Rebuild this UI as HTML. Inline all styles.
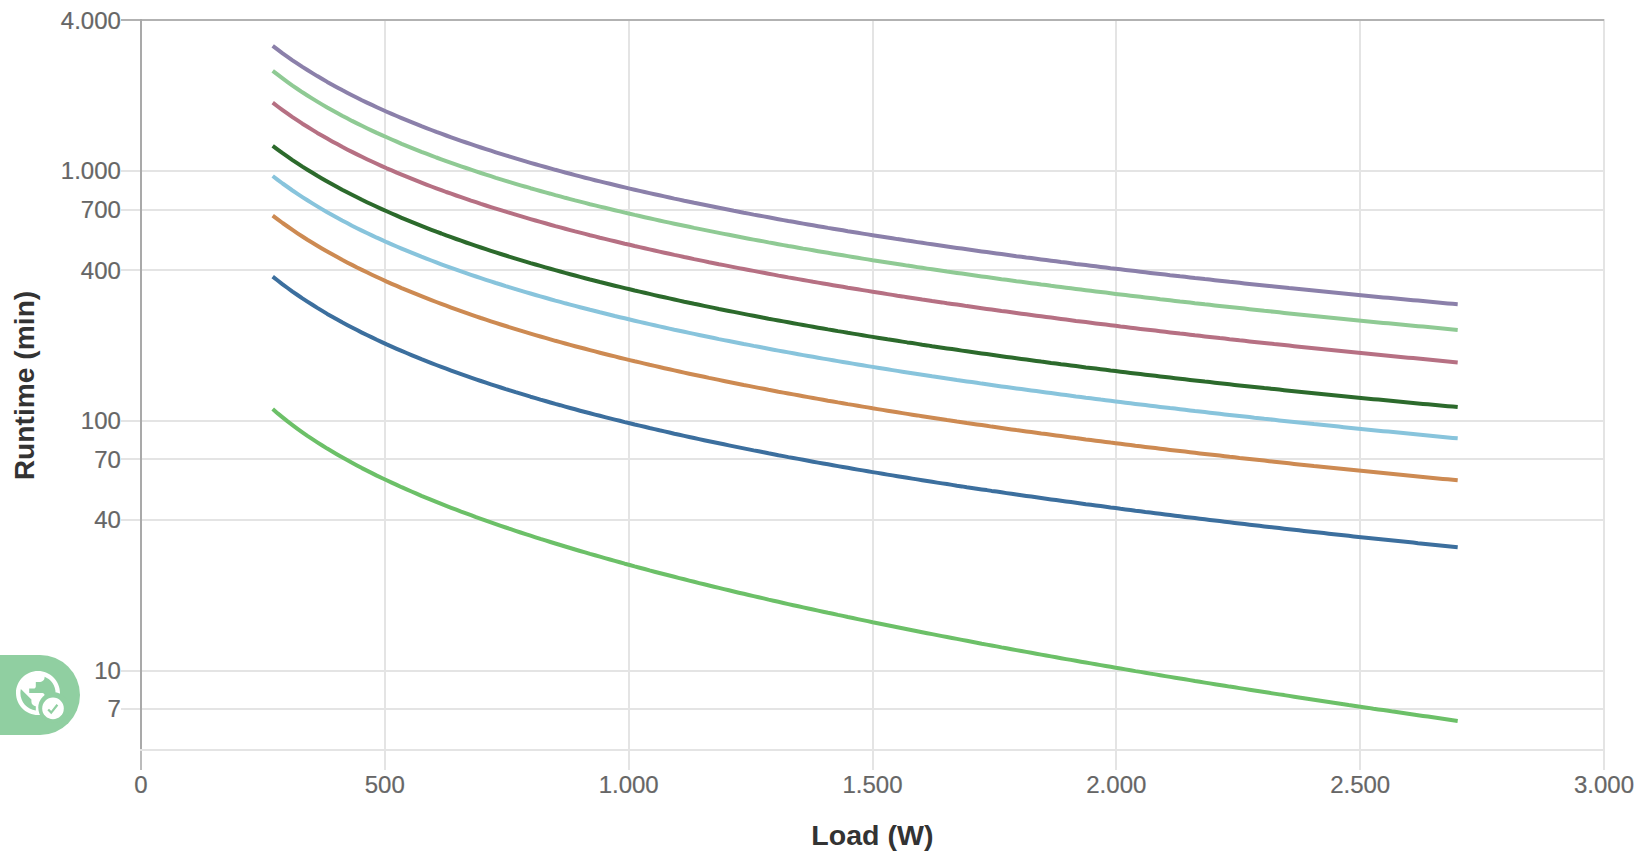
<!DOCTYPE html>
<html><head><meta charset="utf-8"><title>Runtime chart</title>
<style>
html,body{margin:0;padding:0;background:#fff;}
body{width:1640px;height:863px;overflow:hidden;position:relative;font-family:"Liberation Sans",sans-serif;}
svg{position:absolute;left:0;top:0;display:block;}
.tk text,.tk{font-family:"Liberation Sans",sans-serif;font-size:24px;fill:#666;stroke:#666;stroke-width:0.2px;}
.ttl{font-family:"Liberation Sans",sans-serif;font-size:28px;font-weight:bold;fill:#333;}
</style></head><body>
<svg width="1640" height="863" viewBox="0 0 1640 863">
<rect width="1640" height="863" fill="#fff"/>
<g shape-rendering="crispEdges">
<rect x="121" y="170" width="1484" height="2" fill="#e4e4e4"/>
<rect x="121" y="209" width="1484" height="2" fill="#e4e4e4"/>
<rect x="121" y="269" width="1484" height="2" fill="#e4e4e4"/>
<rect x="121" y="420" width="1484" height="2" fill="#e4e4e4"/>
<rect x="121" y="458" width="1484" height="2" fill="#e4e4e4"/>
<rect x="121" y="519" width="1484" height="2" fill="#e4e4e4"/>
<rect x="121" y="670" width="1484" height="2" fill="#e4e4e4"/>
<rect x="121" y="708" width="1484" height="2" fill="#e4e4e4"/>
<rect x="140" y="749" width="1465" height="2" fill="#e4e4e4"/>
<rect x="384" y="19" width="2" height="751" fill="#e4e4e4"/>
<rect x="628" y="19" width="2" height="751" fill="#e4e4e4"/>
<rect x="872" y="19" width="2" height="751" fill="#e4e4e4"/>
<rect x="1115" y="19" width="2" height="751" fill="#e4e4e4"/>
<rect x="1359" y="19" width="2" height="751" fill="#e4e4e4"/>
<rect x="1603" y="19" width="2" height="751" fill="#e4e4e4"/>
<rect x="121" y="19" width="1483" height="2" fill="#b2b2b2"/>
<rect x="140" y="19" width="2" height="730" fill="#a9a9a9"/>
<rect x="140" y="751" width="2" height="19" fill="#bcbcbc"/>
</g>
<g fill="none" stroke-width="4" stroke-linejoin="round">
<path d="M272.7 409.1 L277.7 413.4 L282.6 417.4 L287.6 421.4 L292.5 425.1 L297.5 428.8 L302.4 432.3 L307.4 435.8 L312.4 439.1 L317.3 442.3 L322.3 445.5 L327.2 448.6 L332.2 451.5 L337.2 454.5 L342.1 457.3 L347.1 460.1 L352.0 462.8 L357.0 465.5 L361.9 468.1 L366.9 470.6 L371.9 473.1 L376.8 475.6 L381.8 478.0 L386.7 480.3 L391.7 482.6 L396.7 484.9 L401.6 487.2 L406.6 489.4 L411.5 491.5 L416.5 493.7 L421.4 495.8 L426.4 497.8 L431.4 499.9 L436.3 501.9 L441.3 503.9 L446.2 505.8 L451.2 507.8 L456.2 509.7 L461.1 511.6 L466.1 513.4 L471.0 515.2 L476.0 517.1 L480.9 518.8 L485.9 520.6 L490.9 522.4 L495.8 524.1 L500.8 525.8 L505.7 527.5 L510.7 529.2 L515.6 530.8 L520.6 532.5 L525.6 534.1 L530.5 535.7 L535.5 537.3 L540.4 538.9 L545.4 540.4 L550.4 542.0 L555.3 543.5 L560.3 545.0 L565.2 546.5 L570.2 548.0 L575.1 549.5 L580.1 551.0 L585.1 552.4 L590.0 553.9 L595.0 555.3 L599.9 556.7 L604.9 558.1 L609.9 559.5 L614.8 560.9 L619.8 562.3 L624.7 563.7 L629.7 565.0 L634.6 566.4 L639.6 567.7 L644.6 569.0 L649.5 570.4 L654.5 571.7 L659.4 573.0 L664.4 574.3 L669.4 575.5 L674.3 576.8 L679.3 578.1 L684.2 579.3 L689.2 580.6 L694.1 581.8 L699.1 583.1 L704.1 584.3 L709.0 585.5 L714.0 586.7 L718.9 587.9 L723.9 589.1 L728.9 590.3 L733.8 591.5 L738.8 592.7 L743.7 593.8 L748.7 595.0 L753.6 596.1 L758.6 597.3 L763.6 598.4 L768.5 599.6 L773.5 600.7 L778.4 601.8 L783.4 603.0 L788.3 604.1 L793.3 605.2 L798.3 606.3 L803.2 607.4 L808.2 608.5 L813.1 609.5 L818.1 610.6 L823.1 611.7 L828.0 612.8 L833.0 613.8 L837.9 614.9 L842.9 615.9 L847.8 617.0 L852.8 618.0 L857.8 619.1 L862.7 620.1 L867.7 621.1 L872.6 622.2 L877.6 623.2 L882.6 624.2 L887.5 625.2 L892.5 626.2 L897.4 627.2 L902.4 628.2 L907.3 629.2 L912.3 630.2 L917.3 631.2 L922.2 632.2 L927.2 633.2 L932.1 634.1 L937.1 635.1 L942.1 636.1 L947.0 637.0 L952.0 638.0 L956.9 638.9 L961.9 639.9 L966.8 640.8 L971.8 641.8 L976.8 642.7 L981.7 643.7 L986.7 644.6 L991.6 645.5 L996.6 646.4 L1001.5 647.4 L1006.5 648.3 L1011.5 649.2 L1016.4 650.1 L1021.4 651.0 L1026.3 651.9 L1031.3 652.8 L1036.3 653.7 L1041.2 654.6 L1046.2 655.5 L1051.1 656.4 L1056.1 657.3 L1061.0 658.2 L1066.0 659.1 L1071.0 659.9 L1075.9 660.8 L1080.9 661.7 L1085.8 662.5 L1090.8 663.4 L1095.8 664.3 L1100.7 665.1 L1105.7 666.0 L1110.6 666.8 L1115.6 667.7 L1120.5 668.5 L1125.5 669.4 L1130.5 670.2 L1135.4 671.1 L1140.4 671.9 L1145.3 672.7 L1150.3 673.6 L1155.3 674.4 L1160.2 675.2 L1165.2 676.1 L1170.1 676.9 L1175.1 677.7 L1180.0 678.5 L1185.0 679.3 L1190.0 680.1 L1194.9 681.0 L1199.9 681.8 L1204.8 682.6 L1209.8 683.4 L1214.8 684.2 L1219.7 685.0 L1224.7 685.8 L1229.6 686.6 L1234.6 687.3 L1239.5 688.1 L1244.5 688.9 L1249.5 689.7 L1254.4 690.5 L1259.4 691.3 L1264.3 692.0 L1269.3 692.8 L1274.2 693.6 L1279.2 694.4 L1284.2 695.1 L1289.1 695.9 L1294.1 696.7 L1299.0 697.4 L1304.0 698.2 L1309.0 699.0 L1313.9 699.7 L1318.9 700.5 L1323.8 701.2 L1328.8 702.0 L1333.7 702.7 L1338.7 703.5 L1343.7 704.2 L1348.6 705.0 L1353.6 705.7 L1358.5 706.4 L1363.5 707.2 L1368.5 707.9 L1373.4 708.7 L1378.4 709.4 L1383.3 710.1 L1388.3 710.8 L1393.2 711.6 L1398.2 712.3 L1403.2 713.0 L1408.1 713.7 L1413.1 714.5 L1418.0 715.2 L1423.0 715.9 L1428.0 716.6 L1432.9 717.3 L1437.9 718.0 L1442.8 718.7 L1447.8 719.5 L1452.7 720.2 L1457.7 720.9" stroke="#6cc068"/>
<path d="M272.7 276.6 L277.7 280.5 L282.6 284.3 L287.6 288.0 L292.5 291.6 L297.5 295.0 L302.4 298.4 L307.4 301.6 L312.4 304.8 L317.3 307.9 L322.3 310.9 L327.2 313.9 L332.2 316.7 L337.2 319.5 L342.1 322.3 L347.1 324.9 L352.0 327.5 L357.0 330.1 L361.9 332.6 L366.9 335.0 L371.9 337.4 L376.8 339.8 L381.8 342.1 L386.7 344.4 L391.7 346.6 L396.7 348.8 L401.6 350.9 L406.6 353.0 L411.5 355.1 L416.5 357.2 L421.4 359.2 L426.4 361.1 L431.4 363.1 L436.3 365.0 L441.3 366.9 L446.2 368.7 L451.2 370.6 L456.2 372.4 L461.1 374.1 L466.1 375.9 L471.0 377.6 L476.0 379.3 L480.9 381.0 L485.9 382.7 L490.9 384.3 L495.8 385.9 L500.8 387.5 L505.7 389.1 L510.7 390.6 L515.6 392.2 L520.6 393.7 L525.6 395.2 L530.5 396.7 L535.5 398.1 L540.4 399.6 L545.4 401.0 L550.4 402.5 L555.3 403.9 L560.3 405.2 L565.2 406.6 L570.2 408.0 L575.1 409.3 L580.1 410.7 L585.1 412.0 L590.0 413.3 L595.0 414.6 L599.9 415.8 L604.9 417.1 L609.9 418.4 L614.8 419.6 L619.8 420.8 L624.7 422.1 L629.7 423.3 L634.6 424.5 L639.6 425.6 L644.6 426.8 L649.5 428.0 L654.5 429.1 L659.4 430.3 L664.4 431.4 L669.4 432.5 L674.3 433.7 L679.3 434.8 L684.2 435.9 L689.2 437.0 L694.1 438.0 L699.1 439.1 L704.1 440.2 L709.0 441.2 L714.0 442.3 L718.9 443.3 L723.9 444.3 L728.9 445.4 L733.8 446.4 L738.8 447.4 L743.7 448.4 L748.7 449.4 L753.6 450.4 L758.6 451.3 L763.6 452.3 L768.5 453.3 L773.5 454.2 L778.4 455.2 L783.4 456.1 L788.3 457.1 L793.3 458.0 L798.3 458.9 L803.2 459.8 L808.2 460.8 L813.1 461.7 L818.1 462.6 L823.1 463.5 L828.0 464.3 L833.0 465.2 L837.9 466.1 L842.9 467.0 L847.8 467.8 L852.8 468.7 L857.8 469.6 L862.7 470.4 L867.7 471.3 L872.6 472.1 L877.6 472.9 L882.6 473.8 L887.5 474.6 L892.5 475.4 L897.4 476.2 L902.4 477.0 L907.3 477.8 L912.3 478.6 L917.3 479.4 L922.2 480.2 L927.2 481.0 L932.1 481.8 L937.1 482.6 L942.1 483.4 L947.0 484.1 L952.0 484.9 L956.9 485.7 L961.9 486.4 L966.8 487.2 L971.8 487.9 L976.8 488.7 L981.7 489.4 L986.7 490.1 L991.6 490.9 L996.6 491.6 L1001.5 492.3 L1006.5 493.1 L1011.5 493.8 L1016.4 494.5 L1021.4 495.2 L1026.3 495.9 L1031.3 496.6 L1036.3 497.3 L1041.2 498.0 L1046.2 498.7 L1051.1 499.4 L1056.1 500.1 L1061.0 500.8 L1066.0 501.5 L1071.0 502.1 L1075.9 502.8 L1080.9 503.5 L1085.8 504.2 L1090.8 504.8 L1095.8 505.5 L1100.7 506.1 L1105.7 506.8 L1110.6 507.5 L1115.6 508.1 L1120.5 508.8 L1125.5 509.4 L1130.5 510.0 L1135.4 510.7 L1140.4 511.3 L1145.3 512.0 L1150.3 512.6 L1155.3 513.2 L1160.2 513.8 L1165.2 514.5 L1170.1 515.1 L1175.1 515.7 L1180.0 516.3 L1185.0 516.9 L1190.0 517.5 L1194.9 518.1 L1199.9 518.7 L1204.8 519.3 L1209.8 519.9 L1214.8 520.5 L1219.7 521.1 L1224.7 521.7 L1229.6 522.3 L1234.6 522.9 L1239.5 523.5 L1244.5 524.1 L1249.5 524.7 L1254.4 525.2 L1259.4 525.8 L1264.3 526.4 L1269.3 527.0 L1274.2 527.5 L1279.2 528.1 L1284.2 528.7 L1289.1 529.2 L1294.1 529.8 L1299.0 530.3 L1304.0 530.9 L1309.0 531.5 L1313.9 532.0 L1318.9 532.6 L1323.8 533.1 L1328.8 533.7 L1333.7 534.2 L1338.7 534.7 L1343.7 535.3 L1348.6 535.8 L1353.6 536.4 L1358.5 536.9 L1363.5 537.4 L1368.5 538.0 L1373.4 538.5 L1378.4 539.0 L1383.3 539.5 L1388.3 540.1 L1393.2 540.6 L1398.2 541.1 L1403.2 541.6 L1408.1 542.1 L1413.1 542.6 L1418.0 543.2 L1423.0 543.7 L1428.0 544.2 L1432.9 544.7 L1437.9 545.2 L1442.8 545.7 L1447.8 546.2 L1452.7 546.7 L1457.7 547.2" stroke="#3c6f9e"/>
<path d="M272.7 215.6 L277.7 219.4 L282.6 223.0 L287.6 226.5 L292.5 229.9 L297.5 233.3 L302.4 236.5 L307.4 239.7 L312.4 242.7 L317.3 245.7 L322.3 248.7 L327.2 251.5 L332.2 254.3 L337.2 257.1 L342.1 259.8 L347.1 262.4 L352.0 264.9 L357.0 267.5 L361.9 269.9 L366.9 272.3 L371.9 274.7 L376.8 277.0 L381.8 279.3 L386.7 281.6 L391.7 283.8 L396.7 285.9 L401.6 288.1 L406.6 290.2 L411.5 292.2 L416.5 294.2 L421.4 296.2 L426.4 298.2 L431.4 300.1 L436.3 302.0 L441.3 303.9 L446.2 305.7 L451.2 307.6 L456.2 309.4 L461.1 311.1 L466.1 312.9 L471.0 314.6 L476.0 316.3 L480.9 318.0 L485.9 319.6 L490.9 321.3 L495.8 322.9 L500.8 324.5 L505.7 326.0 L510.7 327.6 L515.6 329.1 L520.6 330.6 L525.6 332.1 L530.5 333.6 L535.5 335.1 L540.4 336.5 L545.4 337.9 L550.4 339.4 L555.3 340.8 L560.3 342.1 L565.2 343.5 L570.2 344.9 L575.1 346.2 L580.1 347.5 L585.1 348.8 L590.0 350.1 L595.0 351.4 L599.9 352.7 L604.9 354.0 L609.9 355.2 L614.8 356.4 L619.8 357.7 L624.7 358.9 L629.7 360.1 L634.6 361.3 L639.6 362.4 L644.6 363.6 L649.5 364.8 L654.5 365.9 L659.4 367.0 L664.4 368.2 L669.4 369.3 L674.3 370.4 L679.3 371.5 L684.2 372.6 L689.2 373.7 L694.1 374.7 L699.1 375.8 L704.1 376.8 L709.0 377.9 L714.0 378.9 L718.9 379.9 L723.9 381.0 L728.9 382.0 L733.8 383.0 L738.8 384.0 L743.7 385.0 L748.7 385.9 L753.6 386.9 L758.6 387.9 L763.6 388.8 L768.5 389.8 L773.5 390.7 L778.4 391.7 L783.4 392.6 L788.3 393.5 L793.3 394.4 L798.3 395.3 L803.2 396.2 L808.2 397.1 L813.1 398.0 L818.1 398.9 L823.1 399.8 L828.0 400.7 L833.0 401.5 L837.9 402.4 L842.9 403.2 L847.8 404.1 L852.8 404.9 L857.8 405.8 L862.7 406.6 L867.7 407.4 L872.6 408.3 L877.6 409.1 L882.6 409.9 L887.5 410.7 L892.5 411.5 L897.4 412.3 L902.4 413.1 L907.3 413.9 L912.3 414.7 L917.3 415.4 L922.2 416.2 L927.2 417.0 L932.1 417.7 L937.1 418.5 L942.1 419.2 L947.0 420.0 L952.0 420.7 L956.9 421.5 L961.9 422.2 L966.8 423.0 L971.8 423.7 L976.8 424.4 L981.7 425.1 L986.7 425.8 L991.6 426.6 L996.6 427.3 L1001.5 428.0 L1006.5 428.7 L1011.5 429.4 L1016.4 430.1 L1021.4 430.7 L1026.3 431.4 L1031.3 432.1 L1036.3 432.8 L1041.2 433.5 L1046.2 434.1 L1051.1 434.8 L1056.1 435.5 L1061.0 436.1 L1066.0 436.8 L1071.0 437.4 L1075.9 438.1 L1080.9 438.7 L1085.8 439.4 L1090.8 440.0 L1095.8 440.7 L1100.7 441.3 L1105.7 441.9 L1110.6 442.6 L1115.6 443.2 L1120.5 443.8 L1125.5 444.4 L1130.5 445.0 L1135.4 445.7 L1140.4 446.3 L1145.3 446.9 L1150.3 447.5 L1155.3 448.1 L1160.2 448.7 L1165.2 449.3 L1170.1 449.9 L1175.1 450.5 L1180.0 451.0 L1185.0 451.6 L1190.0 452.2 L1194.9 452.8 L1199.9 453.4 L1204.8 453.9 L1209.8 454.5 L1214.8 455.1 L1219.7 455.6 L1224.7 456.2 L1229.6 456.8 L1234.6 457.3 L1239.5 457.9 L1244.5 458.4 L1249.5 459.0 L1254.4 459.5 L1259.4 460.1 L1264.3 460.6 L1269.3 461.2 L1274.2 461.7 L1279.2 462.3 L1284.2 462.8 L1289.1 463.3 L1294.1 463.9 L1299.0 464.4 L1304.0 464.9 L1309.0 465.4 L1313.9 466.0 L1318.9 466.5 L1323.8 467.0 L1328.8 467.5 L1333.7 468.0 L1338.7 468.5 L1343.7 469.1 L1348.6 469.6 L1353.6 470.1 L1358.5 470.6 L1363.5 471.1 L1368.5 471.6 L1373.4 472.1 L1378.4 472.6 L1383.3 473.1 L1388.3 473.6 L1393.2 474.0 L1398.2 474.5 L1403.2 475.0 L1408.1 475.5 L1413.1 476.0 L1418.0 476.5 L1423.0 477.0 L1428.0 477.4 L1432.9 477.9 L1437.9 478.4 L1442.8 478.9 L1447.8 479.3 L1452.7 479.8 L1457.7 480.3" stroke="#cd8a52"/>
<path d="M272.7 176.0 L277.7 179.8 L282.6 183.5 L287.6 187.0 L292.5 190.5 L297.5 193.9 L302.4 197.1 L307.4 200.3 L312.4 203.4 L317.3 206.4 L322.3 209.4 L327.2 212.3 L332.2 215.1 L337.2 217.8 L342.1 220.5 L347.1 223.1 L352.0 225.7 L357.0 228.2 L361.9 230.6 L366.9 233.0 L371.9 235.4 L376.8 237.7 L381.8 239.9 L386.7 242.2 L391.7 244.4 L396.7 246.5 L401.6 248.6 L406.6 250.7 L411.5 252.7 L416.5 254.7 L421.4 256.7 L426.4 258.6 L431.4 260.5 L436.3 262.4 L441.3 264.3 L446.2 266.1 L451.2 267.9 L456.2 269.7 L461.1 271.4 L466.1 273.1 L471.0 274.8 L476.0 276.5 L480.9 278.1 L485.9 279.8 L490.9 281.4 L495.8 283.0 L500.8 284.5 L505.7 286.1 L510.7 287.6 L515.6 289.1 L520.6 290.6 L525.6 292.1 L530.5 293.5 L535.5 295.0 L540.4 296.4 L545.4 297.8 L550.4 299.2 L555.3 300.6 L560.3 301.9 L565.2 303.3 L570.2 304.6 L575.1 305.9 L580.1 307.2 L585.1 308.5 L590.0 309.8 L595.0 311.0 L599.9 312.3 L604.9 313.5 L609.9 314.7 L614.8 316.0 L619.8 317.2 L624.7 318.3 L629.7 319.5 L634.6 320.7 L639.6 321.9 L644.6 323.0 L649.5 324.1 L654.5 325.3 L659.4 326.4 L664.4 327.5 L669.4 328.6 L674.3 329.7 L679.3 330.7 L684.2 331.8 L689.2 332.9 L694.1 333.9 L699.1 335.0 L704.1 336.0 L709.0 337.0 L714.0 338.0 L718.9 339.1 L723.9 340.1 L728.9 341.0 L733.8 342.0 L738.8 343.0 L743.7 344.0 L748.7 344.9 L753.6 345.9 L758.6 346.8 L763.6 347.8 L768.5 348.7 L773.5 349.7 L778.4 350.6 L783.4 351.5 L788.3 352.4 L793.3 353.3 L798.3 354.2 L803.2 355.1 L808.2 356.0 L813.1 356.8 L818.1 357.7 L823.1 358.6 L828.0 359.4 L833.0 360.3 L837.9 361.1 L842.9 362.0 L847.8 362.8 L852.8 363.6 L857.8 364.5 L862.7 365.3 L867.7 366.1 L872.6 366.9 L877.6 367.7 L882.6 368.5 L887.5 369.3 L892.5 370.1 L897.4 370.9 L902.4 371.7 L907.3 372.4 L912.3 373.2 L917.3 374.0 L922.2 374.7 L927.2 375.5 L932.1 376.3 L937.1 377.0 L942.1 377.8 L947.0 378.5 L952.0 379.2 L956.9 380.0 L961.9 380.7 L966.8 381.4 L971.8 382.1 L976.8 382.8 L981.7 383.6 L986.7 384.3 L991.6 385.0 L996.6 385.7 L1001.5 386.4 L1006.5 387.1 L1011.5 387.7 L1016.4 388.4 L1021.4 389.1 L1026.3 389.8 L1031.3 390.5 L1036.3 391.1 L1041.2 391.8 L1046.2 392.5 L1051.1 393.1 L1056.1 393.8 L1061.0 394.4 L1066.0 395.1 L1071.0 395.7 L1075.9 396.4 L1080.9 397.0 L1085.8 397.7 L1090.8 398.3 L1095.8 398.9 L1100.7 399.6 L1105.7 400.2 L1110.6 400.8 L1115.6 401.4 L1120.5 402.0 L1125.5 402.7 L1130.5 403.3 L1135.4 403.9 L1140.4 404.5 L1145.3 405.1 L1150.3 405.7 L1155.3 406.3 L1160.2 406.9 L1165.2 407.5 L1170.1 408.1 L1175.1 408.6 L1180.0 409.2 L1185.0 409.8 L1190.0 410.4 L1194.9 411.0 L1199.9 411.5 L1204.8 412.1 L1209.8 412.7 L1214.8 413.2 L1219.7 413.8 L1224.7 414.4 L1229.6 414.9 L1234.6 415.5 L1239.5 416.0 L1244.5 416.6 L1249.5 417.1 L1254.4 417.7 L1259.4 418.2 L1264.3 418.8 L1269.3 419.3 L1274.2 419.8 L1279.2 420.4 L1284.2 420.9 L1289.1 421.4 L1294.1 422.0 L1299.0 422.5 L1304.0 423.0 L1309.0 423.5 L1313.9 424.1 L1318.9 424.6 L1323.8 425.1 L1328.8 425.6 L1333.7 426.1 L1338.7 426.6 L1343.7 427.2 L1348.6 427.7 L1353.6 428.2 L1358.5 428.7 L1363.5 429.2 L1368.5 429.7 L1373.4 430.2 L1378.4 430.7 L1383.3 431.2 L1388.3 431.6 L1393.2 432.1 L1398.2 432.6 L1403.2 433.1 L1408.1 433.6 L1413.1 434.1 L1418.0 434.6 L1423.0 435.0 L1428.0 435.5 L1432.9 436.0 L1437.9 436.5 L1442.8 436.9 L1447.8 437.4 L1452.7 437.9 L1457.7 438.3" stroke="#88c4dc"/>
<path d="M272.7 145.9 L277.7 149.6 L282.6 153.2 L287.6 156.7 L292.5 160.1 L297.5 163.4 L302.4 166.6 L307.4 169.7 L312.4 172.8 L317.3 175.8 L322.3 178.7 L327.2 181.5 L332.2 184.3 L337.2 187.0 L342.1 189.7 L347.1 192.3 L352.0 194.8 L357.0 197.3 L361.9 199.8 L366.9 202.2 L371.9 204.5 L376.8 206.8 L381.8 209.1 L386.7 211.3 L391.7 213.5 L396.7 215.7 L401.6 217.8 L406.6 219.9 L411.5 221.9 L416.5 223.9 L421.4 225.9 L426.4 227.9 L431.4 229.8 L436.3 231.7 L441.3 233.5 L446.2 235.4 L451.2 237.2 L456.2 239.0 L461.1 240.7 L466.1 242.5 L471.0 244.2 L476.0 245.9 L480.9 247.5 L485.9 249.2 L490.9 250.8 L495.8 252.4 L500.8 254.0 L505.7 255.5 L510.7 257.1 L515.6 258.6 L520.6 260.1 L525.6 261.6 L530.5 263.1 L535.5 264.5 L540.4 265.9 L545.4 267.4 L550.4 268.8 L555.3 270.1 L560.3 271.5 L565.2 272.9 L570.2 274.2 L575.1 275.5 L580.1 276.9 L585.1 278.2 L590.0 279.5 L595.0 280.7 L599.9 282.0 L604.9 283.2 L609.9 284.5 L614.8 285.7 L619.8 286.9 L624.7 288.1 L629.7 289.3 L634.6 290.5 L639.6 291.6 L644.6 292.8 L649.5 293.9 L654.5 295.1 L659.4 296.2 L664.4 297.3 L669.4 298.4 L674.3 299.5 L679.3 300.6 L684.2 301.7 L689.2 302.7 L694.1 303.8 L699.1 304.8 L704.1 305.9 L709.0 306.9 L714.0 307.9 L718.9 309.0 L723.9 310.0 L728.9 311.0 L733.8 311.9 L738.8 312.9 L743.7 313.9 L748.7 314.9 L753.6 315.8 L758.6 316.8 L763.6 317.7 L768.5 318.7 L773.5 319.6 L778.4 320.5 L783.4 321.4 L788.3 322.3 L793.3 323.2 L798.3 324.1 L803.2 325.0 L808.2 325.9 L813.1 326.8 L818.1 327.7 L823.1 328.5 L828.0 329.4 L833.0 330.2 L837.9 331.1 L842.9 331.9 L847.8 332.8 L852.8 333.6 L857.8 334.4 L862.7 335.2 L867.7 336.1 L872.6 336.9 L877.6 337.7 L882.6 338.5 L887.5 339.3 L892.5 340.0 L897.4 340.8 L902.4 341.6 L907.3 342.4 L912.3 343.1 L917.3 343.9 L922.2 344.7 L927.2 345.4 L932.1 346.2 L937.1 346.9 L942.1 347.7 L947.0 348.4 L952.0 349.1 L956.9 349.8 L961.9 350.6 L966.8 351.3 L971.8 352.0 L976.8 352.7 L981.7 353.4 L986.7 354.1 L991.6 354.8 L996.6 355.5 L1001.5 356.2 L1006.5 356.9 L1011.5 357.6 L1016.4 358.2 L1021.4 358.9 L1026.3 359.6 L1031.3 360.3 L1036.3 360.9 L1041.2 361.6 L1046.2 362.2 L1051.1 362.9 L1056.1 363.5 L1061.0 364.2 L1066.0 364.8 L1071.0 365.5 L1075.9 366.1 L1080.9 366.7 L1085.8 367.4 L1090.8 368.0 L1095.8 368.6 L1100.7 369.2 L1105.7 369.8 L1110.6 370.5 L1115.6 371.1 L1120.5 371.7 L1125.5 372.3 L1130.5 372.9 L1135.4 373.5 L1140.4 374.1 L1145.3 374.7 L1150.3 375.3 L1155.3 375.8 L1160.2 376.4 L1165.2 377.0 L1170.1 377.6 L1175.1 378.2 L1180.0 378.7 L1185.0 379.3 L1190.0 379.9 L1194.9 380.4 L1199.9 381.0 L1204.8 381.6 L1209.8 382.1 L1214.8 382.7 L1219.7 383.2 L1224.7 383.8 L1229.6 384.3 L1234.6 384.9 L1239.5 385.4 L1244.5 385.9 L1249.5 386.5 L1254.4 387.0 L1259.4 387.5 L1264.3 388.1 L1269.3 388.6 L1274.2 389.1 L1279.2 389.6 L1284.2 390.2 L1289.1 390.7 L1294.1 391.2 L1299.0 391.7 L1304.0 392.2 L1309.0 392.7 L1313.9 393.2 L1318.9 393.7 L1323.8 394.2 L1328.8 394.7 L1333.7 395.2 L1338.7 395.7 L1343.7 396.2 L1348.6 396.7 L1353.6 397.2 L1358.5 397.7 L1363.5 398.2 L1368.5 398.7 L1373.4 399.2 L1378.4 399.6 L1383.3 400.1 L1388.3 400.6 L1393.2 401.1 L1398.2 401.5 L1403.2 402.0 L1408.1 402.5 L1413.1 403.0 L1418.0 403.4 L1423.0 403.9 L1428.0 404.3 L1432.9 404.8 L1437.9 405.3 L1442.8 405.7 L1447.8 406.2 L1452.7 406.6 L1457.7 407.1" stroke="#2c6a2c"/>
<path d="M272.7 102.7 L277.7 106.5 L282.6 110.1 L287.6 113.7 L292.5 117.1 L297.5 120.4 L302.4 123.7 L307.4 126.8 L312.4 129.9 L317.3 132.9 L322.3 135.8 L327.2 138.6 L332.2 141.4 L337.2 144.1 L342.1 146.8 L347.1 149.4 L352.0 151.9 L357.0 154.4 L361.9 156.8 L366.9 159.2 L371.9 161.5 L376.8 163.8 L381.8 166.1 L386.7 168.3 L391.7 170.4 L396.7 172.6 L401.6 174.6 L406.6 176.7 L411.5 178.7 L416.5 180.7 L421.4 182.6 L426.4 184.6 L431.4 186.5 L436.3 188.3 L441.3 190.1 L446.2 192.0 L451.2 193.7 L456.2 195.5 L461.1 197.2 L466.1 198.9 L471.0 200.6 L476.0 202.2 L480.9 203.9 L485.9 205.5 L490.9 207.1 L495.8 208.6 L500.8 210.2 L505.7 211.7 L510.7 213.2 L515.6 214.7 L520.6 216.2 L525.6 217.7 L530.5 219.1 L535.5 220.5 L540.4 221.9 L545.4 223.3 L550.4 224.7 L555.3 226.1 L560.3 227.4 L565.2 228.7 L570.2 230.1 L575.1 231.4 L580.1 232.6 L585.1 233.9 L590.0 235.2 L595.0 236.4 L599.9 237.7 L604.9 238.9 L609.9 240.1 L614.8 241.3 L619.8 242.5 L624.7 243.7 L629.7 244.8 L634.6 246.0 L639.6 247.1 L644.6 248.3 L649.5 249.4 L654.5 250.5 L659.4 251.6 L664.4 252.7 L669.4 253.8 L674.3 254.9 L679.3 255.9 L684.2 257.0 L689.2 258.0 L694.1 259.1 L699.1 260.1 L704.1 261.1 L709.0 262.2 L714.0 263.2 L718.9 264.2 L723.9 265.1 L728.9 266.1 L733.8 267.1 L738.8 268.1 L743.7 269.0 L748.7 270.0 L753.6 270.9 L758.6 271.9 L763.6 272.8 L768.5 273.7 L773.5 274.6 L778.4 275.6 L783.4 276.5 L788.3 277.4 L793.3 278.2 L798.3 279.1 L803.2 280.0 L808.2 280.9 L813.1 281.8 L818.1 282.6 L823.1 283.5 L828.0 284.3 L833.0 285.2 L837.9 286.0 L842.9 286.8 L847.8 287.7 L852.8 288.5 L857.8 289.3 L862.7 290.1 L867.7 290.9 L872.6 291.7 L877.6 292.5 L882.6 293.3 L887.5 294.1 L892.5 294.9 L897.4 295.7 L902.4 296.4 L907.3 297.2 L912.3 298.0 L917.3 298.7 L922.2 299.5 L927.2 300.2 L932.1 301.0 L937.1 301.7 L942.1 302.4 L947.0 303.2 L952.0 303.9 L956.9 304.6 L961.9 305.3 L966.8 306.1 L971.8 306.8 L976.8 307.5 L981.7 308.2 L986.7 308.9 L991.6 309.6 L996.6 310.3 L1001.5 311.0 L1006.5 311.6 L1011.5 312.3 L1016.4 313.0 L1021.4 313.7 L1026.3 314.3 L1031.3 315.0 L1036.3 315.7 L1041.2 316.3 L1046.2 317.0 L1051.1 317.6 L1056.1 318.3 L1061.0 318.9 L1066.0 319.6 L1071.0 320.2 L1075.9 320.9 L1080.9 321.5 L1085.8 322.1 L1090.8 322.8 L1095.8 323.4 L1100.7 324.0 L1105.7 324.6 L1110.6 325.2 L1115.6 325.8 L1120.5 326.5 L1125.5 327.1 L1130.5 327.7 L1135.4 328.3 L1140.4 328.9 L1145.3 329.5 L1150.3 330.1 L1155.3 330.6 L1160.2 331.2 L1165.2 331.8 L1170.1 332.4 L1175.1 333.0 L1180.0 333.6 L1185.0 334.1 L1190.0 334.7 L1194.9 335.3 L1199.9 335.8 L1204.8 336.4 L1209.8 337.0 L1214.8 337.5 L1219.7 338.1 L1224.7 338.6 L1229.6 339.2 L1234.6 339.7 L1239.5 340.3 L1244.5 340.8 L1249.5 341.4 L1254.4 341.9 L1259.4 342.5 L1264.3 343.0 L1269.3 343.5 L1274.2 344.1 L1279.2 344.6 L1284.2 345.1 L1289.1 345.6 L1294.1 346.2 L1299.0 346.7 L1304.0 347.2 L1309.0 347.7 L1313.9 348.2 L1318.9 348.8 L1323.8 349.3 L1328.8 349.8 L1333.7 350.3 L1338.7 350.8 L1343.7 351.3 L1348.6 351.8 L1353.6 352.3 L1358.5 352.8 L1363.5 353.3 L1368.5 353.8 L1373.4 354.3 L1378.4 354.8 L1383.3 355.2 L1388.3 355.7 L1393.2 356.2 L1398.2 356.7 L1403.2 357.2 L1408.1 357.7 L1413.1 358.1 L1418.0 358.6 L1423.0 359.1 L1428.0 359.6 L1432.9 360.0 L1437.9 360.5 L1442.8 361.0 L1447.8 361.4 L1452.7 361.9 L1457.7 362.4" stroke="#b67083"/>
<path d="M272.7 70.8 L277.7 74.7 L282.6 78.4 L287.6 82.1 L292.5 85.6 L297.5 89.0 L302.4 92.3 L307.4 95.5 L312.4 98.6 L317.3 101.6 L322.3 104.6 L327.2 107.5 L332.2 110.3 L337.2 113.0 L342.1 115.7 L347.1 118.3 L352.0 120.9 L357.0 123.4 L361.9 125.8 L366.9 128.2 L371.9 130.6 L376.8 132.9 L381.8 135.1 L386.7 137.3 L391.7 139.5 L396.7 141.7 L401.6 143.8 L406.6 145.8 L411.5 147.8 L416.5 149.8 L421.4 151.8 L426.4 153.7 L431.4 155.6 L436.3 157.5 L441.3 159.3 L446.2 161.1 L451.2 162.9 L456.2 164.6 L461.1 166.3 L466.1 168.0 L471.0 169.7 L476.0 171.4 L480.9 173.0 L485.9 174.6 L490.9 176.2 L495.8 177.8 L500.8 179.3 L505.7 180.8 L510.7 182.3 L515.6 183.8 L520.6 185.3 L525.6 186.7 L530.5 188.2 L535.5 189.6 L540.4 191.0 L545.4 192.4 L550.4 193.7 L555.3 195.1 L560.3 196.4 L565.2 197.8 L570.2 199.1 L575.1 200.4 L580.1 201.6 L585.1 202.9 L590.0 204.2 L595.0 205.4 L599.9 206.6 L604.9 207.8 L609.9 209.0 L614.8 210.2 L619.8 211.4 L624.7 212.6 L629.7 213.7 L634.6 214.9 L639.6 216.0 L644.6 217.2 L649.5 218.3 L654.5 219.4 L659.4 220.5 L664.4 221.6 L669.4 222.6 L674.3 223.7 L679.3 224.8 L684.2 225.8 L689.2 226.8 L694.1 227.9 L699.1 228.9 L704.1 229.9 L709.0 230.9 L714.0 231.9 L718.9 232.9 L723.9 233.9 L728.9 234.8 L733.8 235.8 L738.8 236.8 L743.7 237.7 L748.7 238.7 L753.6 239.6 L758.6 240.5 L763.6 241.4 L768.5 242.4 L773.5 243.3 L778.4 244.2 L783.4 245.1 L788.3 246.0 L793.3 246.8 L798.3 247.7 L803.2 248.6 L808.2 249.4 L813.1 250.3 L818.1 251.2 L823.1 252.0 L828.0 252.8 L833.0 253.7 L837.9 254.5 L842.9 255.3 L847.8 256.1 L852.8 257.0 L857.8 257.8 L862.7 258.6 L867.7 259.4 L872.6 260.2 L877.6 260.9 L882.6 261.7 L887.5 262.5 L892.5 263.3 L897.4 264.0 L902.4 264.8 L907.3 265.6 L912.3 266.3 L917.3 267.1 L922.2 267.8 L927.2 268.6 L932.1 269.3 L937.1 270.0 L942.1 270.7 L947.0 271.5 L952.0 272.2 L956.9 272.9 L961.9 273.6 L966.8 274.3 L971.8 275.0 L976.8 275.7 L981.7 276.4 L986.7 277.1 L991.6 277.8 L996.6 278.5 L1001.5 279.2 L1006.5 279.8 L1011.5 280.5 L1016.4 281.2 L1021.4 281.8 L1026.3 282.5 L1031.3 283.2 L1036.3 283.8 L1041.2 284.5 L1046.2 285.1 L1051.1 285.8 L1056.1 286.4 L1061.0 287.0 L1066.0 287.7 L1071.0 288.3 L1075.9 288.9 L1080.9 289.6 L1085.8 290.2 L1090.8 290.8 L1095.8 291.4 L1100.7 292.0 L1105.7 292.6 L1110.6 293.2 L1115.6 293.9 L1120.5 294.5 L1125.5 295.1 L1130.5 295.7 L1135.4 296.2 L1140.4 296.8 L1145.3 297.4 L1150.3 298.0 L1155.3 298.6 L1160.2 299.2 L1165.2 299.7 L1170.1 300.3 L1175.1 300.9 L1180.0 301.5 L1185.0 302.0 L1190.0 302.6 L1194.9 303.2 L1199.9 303.7 L1204.8 304.3 L1209.8 304.8 L1214.8 305.4 L1219.7 305.9 L1224.7 306.5 L1229.6 307.0 L1234.6 307.6 L1239.5 308.1 L1244.5 308.6 L1249.5 309.2 L1254.4 309.7 L1259.4 310.2 L1264.3 310.8 L1269.3 311.3 L1274.2 311.8 L1279.2 312.3 L1284.2 312.9 L1289.1 313.4 L1294.1 313.9 L1299.0 314.4 L1304.0 314.9 L1309.0 315.4 L1313.9 315.9 L1318.9 316.5 L1323.8 317.0 L1328.8 317.5 L1333.7 318.0 L1338.7 318.5 L1343.7 319.0 L1348.6 319.4 L1353.6 319.9 L1358.5 320.4 L1363.5 320.9 L1368.5 321.4 L1373.4 321.9 L1378.4 322.4 L1383.3 322.9 L1388.3 323.3 L1393.2 323.8 L1398.2 324.3 L1403.2 324.8 L1408.1 325.2 L1413.1 325.7 L1418.0 326.2 L1423.0 326.6 L1428.0 327.1 L1432.9 327.6 L1437.9 328.0 L1442.8 328.5 L1447.8 329.0 L1452.7 329.4 L1457.7 329.9" stroke="#8fca94"/>
<path d="M272.7 45.8 L277.7 49.6 L282.6 53.3 L287.6 56.8 L292.5 60.3 L297.5 63.6 L302.4 66.9 L307.4 70.0 L312.4 73.1 L317.3 76.1 L322.3 79.0 L327.2 81.9 L332.2 84.7 L337.2 87.4 L342.1 90.1 L347.1 92.7 L352.0 95.2 L357.0 97.7 L361.9 100.2 L366.9 102.6 L371.9 104.9 L376.8 107.2 L381.8 109.5 L386.7 111.7 L391.7 113.9 L396.7 116.0 L401.6 118.1 L406.6 120.2 L411.5 122.2 L416.5 124.2 L421.4 126.2 L426.4 128.1 L431.4 130.0 L436.3 131.9 L441.3 133.7 L446.2 135.5 L451.2 137.3 L456.2 139.1 L461.1 140.8 L466.1 142.5 L471.0 144.2 L476.0 145.9 L480.9 147.5 L485.9 149.1 L490.9 150.7 L495.8 152.3 L500.8 153.9 L505.7 155.4 L510.7 156.9 L515.6 158.4 L520.6 159.9 L525.6 161.4 L530.5 162.8 L535.5 164.2 L540.4 165.6 L545.4 167.0 L550.4 168.4 L555.3 169.8 L560.3 171.1 L565.2 172.5 L570.2 173.8 L575.1 175.1 L580.1 176.4 L585.1 177.7 L590.0 178.9 L595.0 180.2 L599.9 181.4 L604.9 182.6 L609.9 183.8 L614.8 185.0 L619.8 186.2 L624.7 187.4 L629.7 188.6 L634.6 189.7 L639.6 190.9 L644.6 192.0 L649.5 193.1 L654.5 194.2 L659.4 195.3 L664.4 196.4 L669.4 197.5 L674.3 198.6 L679.3 199.6 L684.2 200.7 L689.2 201.7 L694.1 202.8 L699.1 203.8 L704.1 204.8 L709.0 205.8 L714.0 206.8 L718.9 207.8 L723.9 208.8 L728.9 209.8 L733.8 210.8 L738.8 211.7 L743.7 212.7 L748.7 213.6 L753.6 214.6 L758.6 215.5 L763.6 216.4 L768.5 217.3 L773.5 218.3 L778.4 219.2 L783.4 220.1 L788.3 221.0 L793.3 221.8 L798.3 222.7 L803.2 223.6 L808.2 224.5 L813.1 225.3 L818.1 226.2 L823.1 227.0 L828.0 227.9 L833.0 228.7 L837.9 229.5 L842.9 230.3 L847.8 231.2 L852.8 232.0 L857.8 232.8 L862.7 233.6 L867.7 234.4 L872.6 235.2 L877.6 236.0 L882.6 236.7 L887.5 237.5 L892.5 238.3 L897.4 239.1 L902.4 239.8 L907.3 240.6 L912.3 241.3 L917.3 242.1 L922.2 242.8 L927.2 243.6 L932.1 244.3 L937.1 245.0 L942.1 245.8 L947.0 246.5 L952.0 247.2 L956.9 247.9 L961.9 248.6 L966.8 249.3 L971.8 250.0 L976.8 250.7 L981.7 251.4 L986.7 252.1 L991.6 252.8 L996.6 253.5 L1001.5 254.1 L1006.5 254.8 L1011.5 255.5 L1016.4 256.2 L1021.4 256.8 L1026.3 257.5 L1031.3 258.1 L1036.3 258.8 L1041.2 259.4 L1046.2 260.1 L1051.1 260.7 L1056.1 261.3 L1061.0 262.0 L1066.0 262.6 L1071.0 263.2 L1075.9 263.9 L1080.9 264.5 L1085.8 265.1 L1090.8 265.7 L1095.8 266.3 L1100.7 266.9 L1105.7 267.5 L1110.6 268.2 L1115.6 268.7 L1120.5 269.3 L1125.5 269.9 L1130.5 270.5 L1135.4 271.1 L1140.4 271.7 L1145.3 272.3 L1150.3 272.9 L1155.3 273.4 L1160.2 274.0 L1165.2 274.6 L1170.1 275.2 L1175.1 275.7 L1180.0 276.3 L1185.0 276.8 L1190.0 277.4 L1194.9 278.0 L1199.9 278.5 L1204.8 279.1 L1209.8 279.6 L1214.8 280.2 L1219.7 280.7 L1224.7 281.2 L1229.6 281.8 L1234.6 282.3 L1239.5 282.8 L1244.5 283.4 L1249.5 283.9 L1254.4 284.4 L1259.4 285.0 L1264.3 285.5 L1269.3 286.0 L1274.2 286.5 L1279.2 287.0 L1284.2 287.5 L1289.1 288.1 L1294.1 288.6 L1299.0 289.1 L1304.0 289.6 L1309.0 290.1 L1313.9 290.6 L1318.9 291.1 L1323.8 291.6 L1328.8 292.1 L1333.7 292.6 L1338.7 293.0 L1343.7 293.5 L1348.6 294.0 L1353.6 294.5 L1358.5 295.0 L1363.5 295.5 L1368.5 295.9 L1373.4 296.4 L1378.4 296.9 L1383.3 297.4 L1388.3 297.8 L1393.2 298.3 L1398.2 298.8 L1403.2 299.2 L1408.1 299.7 L1413.1 300.2 L1418.0 300.6 L1423.0 301.1 L1428.0 301.5 L1432.9 302.0 L1437.9 302.5 L1442.8 302.9 L1447.8 303.4 L1452.7 303.8 L1457.7 304.2" stroke="#8b80aa"/>
</g>
<g class="tk" text-anchor="end">
<text x="120.9" y="28.7">4.000</text>
<text x="120.9" y="179.1">1.000</text>
<text x="120.9" y="217.8">700</text>
<text x="120.9" y="278.5">400</text>
<text x="120.9" y="428.9">100</text>
<text x="120.9" y="467.6">70</text>
<text x="120.9" y="528.3">40</text>
<text x="120.9" y="678.7">10</text>
<text x="120.9" y="717.4">7</text>
</g>
<g class="tk" text-anchor="middle">
<text x="141" y="793">0</text>
<text x="384.8" y="793">500</text>
<text x="628.7" y="793">1.000</text>
<text x="872.5" y="793">1.500</text>
<text x="1116.3" y="793">2.000</text>
<text x="1360.2" y="793">2.500</text>
<text x="1604.0" y="793">3.000</text>
</g>
<text class="ttl" style="font-size:28.55px" text-anchor="middle" x="872.4" y="845.2">Load (W)</text>
<text class="ttl" style="font-size:28.2px" text-anchor="middle" transform="translate(34 385.5) rotate(-90)">Runtime (min)</text>
<path d="M0 655 H40 A40 40 0 0 1 40 735 H0 Z" fill="#90cfa1"/>
<g transform="translate(11.6 666.6) scale(2.2)" fill="#fff">
<path d="M12 2C6.48 2 2 6.48 2 12s4.48 10 10 10 10-4.48 10-10S17.52 2 12 2zm-1 17.93c-3.950-.49-7-3.850-7-7.930 0-.62.080-1.210.210-1.790L9 15v1c0 1.100.9 2 2 2v1.930zm6.900-2.540c-.26-.81-1-1.390-1.900-1.390h-1v-3c0-.55-.45-1-1-1H8v-2h2c.55 0 1-.45 1-1V7h2c1.100 0 2-.9 2-2v-.41c2.930 1.190 5 4.060 5 7.410 0 2.080-.8 3.970-2.100 5.390z"/>
</g>
<circle cx="53.7" cy="707.7" r="15.4" fill="#90cfa1"/>
<circle cx="53" cy="708.4" r="10.8" fill="#fff"/>
<path d="M48.2 709.4 L51.2 712.6 L57.4 704.8" fill="none" stroke="#90cfa1" stroke-width="2.2"/>
</svg>
</body></html>
